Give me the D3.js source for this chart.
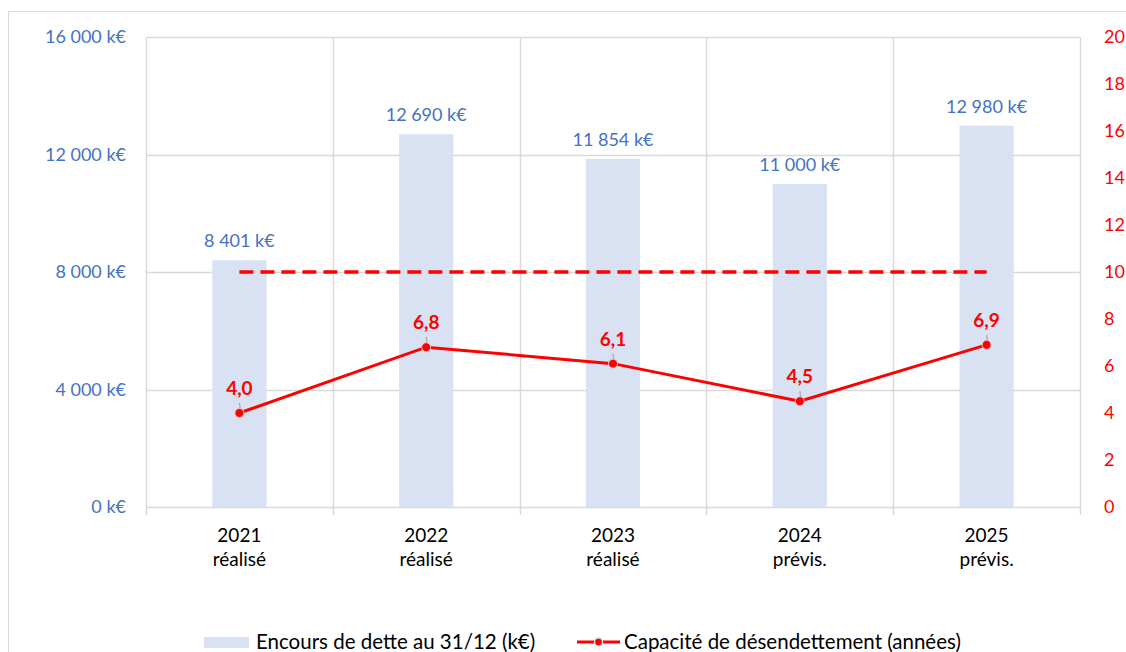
<!DOCTYPE html>
<html>
<head>
<meta charset="utf-8">
<script src="https://cdn.jsdelivr.net/npm/d3@7"></script>
<style>
  body { margin: 0; background: #fff; }
  svg { font-family: Lato, "Open Sans", sans-serif; }
</style>
</head>
<body>
<script>
// data
const years = ['2021', '2022', '2023', '2024', '2025']
const status = ['réalisé', 'réalisé', 'réalisé', 'prévis.', 'prévis.']
const encours = [8401, 12690, 11854, 11000, 12980]
const capacite = [4.0, 6.8, 6.1, 4.5, 6.9]
const seuil = [10, 10, 10, 10, 10]
const leftTicks = [0, 4000, 8000, 12000, 16000]
const rightTicks = [0, 2, 4, 6, 8, 10, 12, 14, 16, 18, 20]

const width = 1126, height = 652
const margin = { top: 37, right: 46, bottom: 145, left: 146 }

const blue = '#4472C4', red = '#FF0000', grid = '#D9D9D9'
const fmtK = d => d3.format(',')(d).replace(/,/g, ' ') + ' k€'
const fmtDec = d => d.toFixed(1).replace('.', ',')

const svg = d3.select('body').append('svg')
    .attr('width', width)
    .attr('height', height)

// outer frame
svg.append('rect')
    .attr('x', 8.5).attr('y', 11.5)
    .attr('width', width + 20).attr('height', height + 20)
    .attr('fill', 'none').attr('stroke', grid)

const x = d3.scaleBand()
    .domain(years)
    .range([margin.left, width - margin.right])
    .padding(0)

const y = d3.scaleLinear()
    .domain([0, 16000])
    .range([height - margin.bottom, margin.top])

const y2 = d3.scaleLinear()
    .domain([0, 20])
    .range([height - margin.bottom, margin.top])

const chartBottom = height - margin.bottom

// horizontal gridlines
svg.append('g')
    .selectAll('line')
    .data(leftTicks).enter()
    .append('line')
    .attr('x1', margin.left).attr('x2', width - margin.right)
    .attr('y1', d => Math.round(y(d)) + 0.5).attr('y2', d => Math.round(y(d)) + 0.5)
    .attr('stroke', grid).attr('stroke-width', 1.5)

// vertical gridlines between categories
const bounds = years.map(d => x(d)).concat([x(years[years.length - 1]) + x.bandwidth()])
svg.append('g')
    .selectAll('line')
    .data(bounds).enter()
    .append('line')
    .attr('x1', d => Math.round(d) + 0.5).attr('x2', d => Math.round(d) + 0.5)
    .attr('y1', margin.top).attr('y2', chartBottom + 8)
    .attr('stroke', grid).attr('stroke-width', 1.5)

// left axis labels
svg.append('g')
    .selectAll('text')
    .data(leftTicks).enter()
    .append('text')
    .attr('x', 126).attr('y', d => y(d)).attr('dy', '0.35em')
    .attr('text-anchor', 'end')
    .attr('fill', blue).style('font-size', '18px')
    .text(fmtK)

// right axis labels
svg.append('g')
    .selectAll('text')
    .data(rightTicks).enter()
    .append('text')
    .attr('x', 1104).attr('y', d => y2(d)).attr('dy', '0.35em')
    .attr('fill', red).style('font-size', '18px')
    .text(d => d)

// x labels
const xl = svg.append('g')
    .selectAll('text')
    .data(years).enter()
    .append('text')
    .attr('x', d => x(d) + x.bandwidth() / 2)
    .attr('text-anchor', 'middle')
    .attr('fill', '#000').style('font-size', '19px')
xl.append('tspan').attr('x', d => x(d) + x.bandwidth() / 2).attr('y', 542).text(d => d)
xl.append('tspan').attr('x', d => x(d) + x.bandwidth() / 2).attr('y', 566).text((d, i) => status[i])

// bars
const barW = x.bandwidth() * 0.29
const cx = (d, i) => x(years[i]) + x.bandwidth() / 2
svg.append('g')
    .selectAll('rect')
    .data(encours).enter()
    .append('rect')
    .attr('x', (d, i) => cx(d, i) - barW / 2)
    .attr('width', barW)
    .attr('y', d => y(d))
    .attr('height', d => chartBottom - y(d))
    .attr('fill', '#D9E2F3')

svg.append('g')
    .selectAll('text')
    .data(encours).enter()
    .append('text')
    .attr('x', cx)
    .attr('y', d => y(d) - 13)
    .attr('text-anchor', 'middle')
    .attr('fill', blue).style('font-size', '18px')
    .text(fmtK)

// threshold dashed line
const line = d3.line()
    .x((d, i) => cx(d, i))
    .y(d => y2(d))

svg.append('path')
    .datum(seuil)
    .attr('d', line)
    .attr('fill', 'none')
    .attr('stroke', red).attr('stroke-width', 3.5)
    .attr('stroke-dasharray', '14,7')

// capacity line
svg.append('path')
    .datum(capacite)
    .attr('d', line)
    .attr('fill', 'none')
    .attr('stroke', red).attr('stroke-width', 3)

// leader lines
svg.append('g')
    .selectAll('line')
    .data(capacite).enter()
    .append('line')
    .attr('x1', (d, i) => cx(d, i)).attr('x2', (d, i) => cx(d, i) + 1)
    .attr('y1', d => y2(d) - 10).attr('y2', d => y2(d) - 3)
    .attr('stroke', '#A6A6A6').attr('stroke-width', 1.2)

svg.append('g')
    .selectAll('circle')
    .data(capacite).enter()
    .append('circle')
    .attr('cx', cx)
    .attr('cy', d => y2(d))
    .attr('r', 4.5)
    .attr('fill', red)
    .attr('stroke', '#E4C8D0').attr('stroke-width', 1)

svg.append('g')
    .selectAll('text')
    .data(capacite).enter()
    .append('text')
    .attr('x', cx)
    .attr('y', d => y2(d) - 18)
    .attr('text-anchor', 'middle')
    .attr('fill', red).style('font-size', '19px').style('font-weight', 'bold')
    .text(fmtDec)

// legend
const legend = svg.append('g')
legend.append('rect')
    .attr('x', 204).attr('y', 637).attr('width', 45).attr('height', 11)
    .attr('fill', '#D9E2F3')
legend.append('text')
    .attr('x', 256).attr('y', 649)
    .attr('fill', '#000').style('font-size', '20.5px')
    .text('Encours de dette au 31/12 (k€)')
legend.append('line')
    .attr('x1', 577).attr('x2', 620).attr('y1', 642).attr('y2', 642)
    .attr('stroke', red).attr('stroke-width', 3)
legend.append('circle')
    .attr('cx', 598.5).attr('cy', 642).attr('r', 4)
    .attr('fill', red).attr('stroke', '#D9D0E8').attr('stroke-width', 1.5)
legend.append('text')
    .attr('x', 624).attr('y', 649)
    .attr('fill', '#000').style('font-size', '20.5px')
    .text('Capacité de désendettement (années)')
</script>
</body>
</html>
